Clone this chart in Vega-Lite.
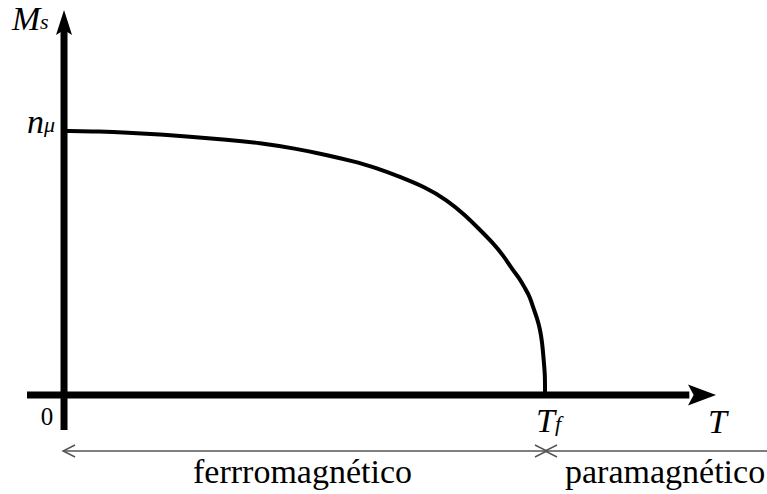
{
  "$schema": "https://vega.github.io/schema/vega-lite/v6.json",
  "width": 767,
  "height": 494,
  "padding": 0,
  "autosize": {"type": "none"},
  "background": "white",
  "config": {"view": {"stroke": null}},
  "datasets": {
    "curve": [
      {"T": 0.0, "Ms": 1.0},
      {"T": 0.0748, "Ms": 0.9981},
      {"T": 0.131, "Ms": 0.994},
      {"T": 0.1996, "Ms": 0.9867},
      {"T": 0.268, "Ms": 0.977},
      {"T": 0.3368, "Ms": 0.9678},
      {"T": 0.407, "Ms": 0.955},
      {"T": 0.4802, "Ms": 0.9337},
      {"T": 0.547, "Ms": 0.909},
      {"T": 0.5988, "Ms": 0.8864},
      {"T": 0.651, "Ms": 0.86},
      {"T": 0.699, "Ms": 0.826},
      {"T": 0.7505, "Ms": 0.7879},
      {"T": 0.796, "Ms": 0.739},
      {"T": 0.8337, "Ms": 0.6818},
      {"T": 0.865, "Ms": 0.625},
      {"T": 0.8898, "Ms": 0.5795},
      {"T": 0.9127, "Ms": 0.5303},
      {"T": 0.933, "Ms": 0.473},
      {"T": 0.948, "Ms": 0.4394},
      {"T": 0.958, "Ms": 0.405},
      {"T": 0.9688, "Ms": 0.3712},
      {"T": 0.975, "Ms": 0.333},
      {"T": 0.9834, "Ms": 0.2917},
      {"T": 0.99, "Ms": 0.246},
      {"T": 0.9938, "Ms": 0.2008},
      {"T": 0.996, "Ms": 0.159},
      {"T": 0.9979, "Ms": 0.1174},
      {"T": 1.0, "Ms": 0.076},
      {"T": 1.0, "Ms": 0.0}
    ],
    "axes": [
      {"T": 0.0, "T2": 0.0, "Ms": -0.1326, "Ms2": 1.40},
      {"T": -0.0769, "T2": 1.30, "Ms": 0.0, "Ms2": 0.0}
    ],
    "spans": [
      {"T": -0.002, "T2": 1.0, "Ms": -0.2121},
      {"T": 1.0, "T2": 1.4615, "Ms": -0.2121}
    ],
    "labels": [
      {"label": "M", "T": -0.1081, "Ms": 1.3826, "group": "sym"},
      {"label": "n", "T": -0.0769, "Ms": 0.9924, "group": "sym"},
      {"label": "T", "T": 0.9813, "Ms": -0.1402, "group": "sym"},
      {"label": "T", "T": 1.3389, "Ms": -0.1439, "group": "sym"},
      {"label": "s", "T": -0.0499, "Ms": 1.3864, "group": "sub"},
      {"label": "μ", "T": -0.0416, "Ms": 0.9962, "group": "sub"},
      {"label": "f", "T": 1.0208, "Ms": -0.1364, "group": "sub"},
      {"label": "0", "T": -0.0353, "Ms": -0.1136, "group": "origin"},
      {"label": "ferrromagnético", "T": 0.2682, "Ms": -0.3333, "group": "phase"},
      {"label": "paramagnético", "T": 1.0416, "Ms": -0.3333, "group": "phase"}
    ]
  },
  "encoding": {
    "x": {"field": "T", "type": "quantitative", "axis": null,
          "scale": {"domain": [-0.1331, 1.4615], "nice": false, "zero": false}},
    "y": {"field": "Ms", "type": "quantitative", "axis": null,
          "scale": {"domain": [-0.375, 1.4962], "nice": false, "zero": false}}
  },
  "layer": [
    {
      "data": {"name": "axes"},
      "mark": {"type": "rule", "color": "black", "strokeWidth": 7, "strokeCap": "butt"},
      "encoding": {"x2": {"field": "T2"}, "y2": {"field": "Ms2"}}
    },
    {
      "data": {"values": [{"T": 0.0, "Ms": 1.458}]},
      "mark": {"type": "point", "shape": "M0,0 L0.64,2 L0,1.6 L-0.64,2 Z", "size": 625,
               "filled": true, "color": "black", "opacity": 1}
    },
    {
      "data": {"values": [{"T": 1.3555, "Ms": 0.0}]},
      "mark": {"type": "point", "shape": "M0,0 L-2,0.75 L-1.6,0 L-2,-0.75 Z", "size": 784,
               "filled": true, "color": "black", "opacity": 1}
    },
    {
      "data": {"name": "curve"},
      "mark": {"type": "line", "color": "black", "strokeWidth": 4, "interpolate": "basis"}
    },
    {
      "data": {"name": "spans"},
      "mark": {"type": "rule", "color": "#555555", "strokeWidth": 1.5},
      "encoding": {"x2": {"field": "T2"}}
    },
    {
      "data": {"values": [{"T": -0.002, "Ms": -0.2121}, {"T": 1.0, "Ms": -0.2121}]},
      "mark": {"type": "point", "shape": "M2,-1 L0,0 L2,1", "size": 144, "filled": false,
               "color": "#555555", "strokeWidth": 1.5, "opacity": 1}
    },
    {
      "data": {"values": [{"T": 1.004, "Ms": -0.2121}]},
      "mark": {"type": "point", "shape": "M-2,-1 L0,0 L-2,1", "size": 144, "filled": false,
               "color": "#555555", "strokeWidth": 1.5, "opacity": 1}
    },
    {
      "data": {"name": "labels"},
      "transform": [{"filter": "datum.group === 'sym'"}],
      "mark": {"type": "text", "font": "Liberation Serif", "fontStyle": "italic", "fontSize": 34,
               "align": "left", "baseline": "alphabetic", "color": "black"},
      "encoding": {"text": {"field": "label"}}
    },
    {
      "data": {"name": "labels"},
      "transform": [{"filter": "datum.group === 'sub'"}],
      "mark": {"type": "text", "font": "Liberation Serif", "fontStyle": "italic", "fontSize": 22,
               "align": "left", "baseline": "alphabetic", "color": "black"},
      "encoding": {"text": {"field": "label"}}
    },
    {
      "data": {"name": "labels"},
      "transform": [{"filter": "datum.group === 'origin'"}],
      "mark": {"type": "text", "font": "Liberation Serif", "fontSize": 25,
               "align": "center", "baseline": "alphabetic", "color": "black"},
      "encoding": {"text": {"field": "label"}}
    },
    {
      "data": {"name": "labels"},
      "transform": [{"filter": "datum.group === 'phase'"}],
      "mark": {"type": "text", "font": "Liberation Serif", "fontSize": 34,
               "align": "left", "baseline": "alphabetic", "color": "black"},
      "encoding": {"text": {"field": "label"}}
    }
  ]
}
